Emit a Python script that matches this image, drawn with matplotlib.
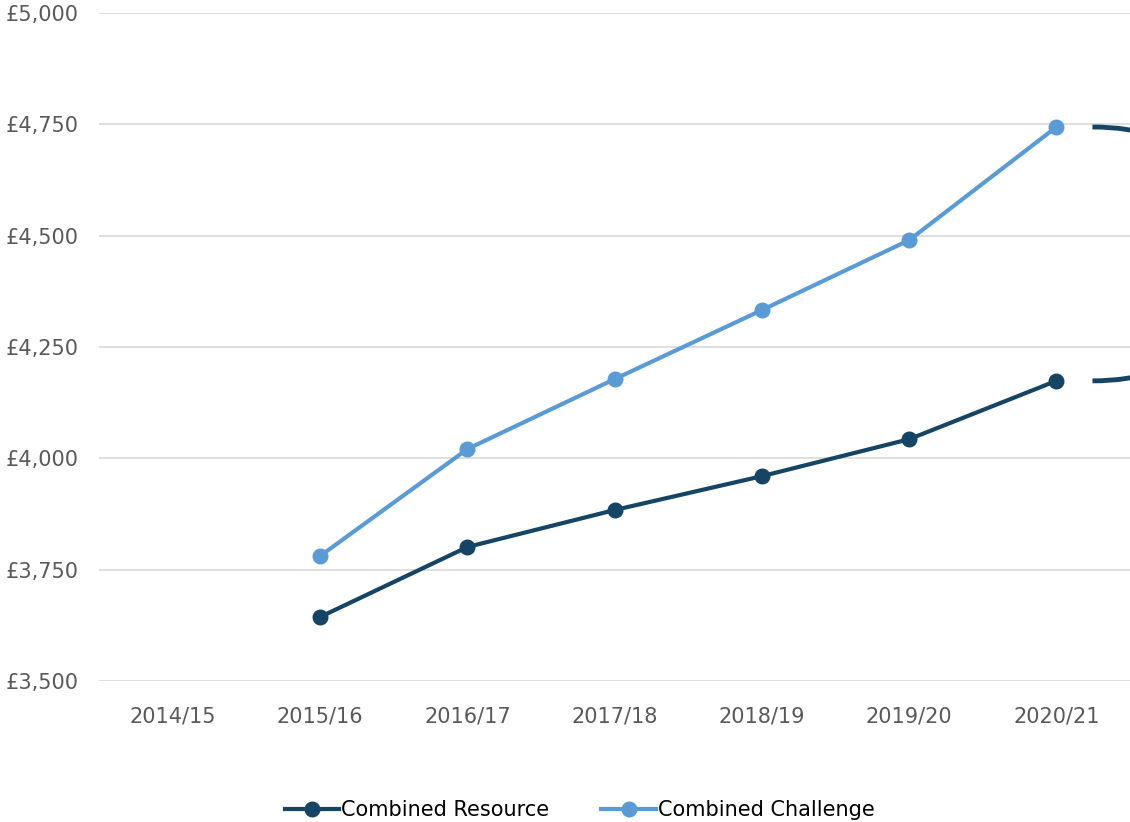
import matplotlib
matplotlib.use("Agg")
import matplotlib.pyplot as plt
from matplotlib.patches import Arc
from matplotlib.ticker import FuncFormatter

years = ["2014/15", "2015/16", "2016/17", "2017/18", "2018/19", "2019/20", "2020/21"]
resource = [None, 3644, 3801, 3884, 3960, 4043, 4174]
challenge = [None, 3781, 4021, 4178, 4333, 4490, 4744]
yticks = [3500, 3750, 4000, 4250, 4500, 4750, 5000]

dark = "#164464"
light = "#5b9bd5"
grey = "#595959"

plt.rcParams['font.family'] = ['DejaVu Sans']

fig = plt.figure(figsize=(11.3, 8.22), dpi=100)
ax = fig.add_axes([0.088, 0.1715, 0.912, 0.8127])

x = list(range(len(years)))
rx = [i for i, v in zip(x, resource) if v is not None]
ry = [v for v in resource if v is not None]
cx = [i for i, v in zip(x, challenge) if v is not None]
cy = [v for v in challenge if v is not None]

ax.plot(rx, ry, color=dark, lw=3, marker='o', markersize=10.5, label="Combined Resource", zorder=3)
ax.plot(cx, cy, color=light, lw=3, marker='o', markersize=10.5, label="Combined Challenge", zorder=3)

# partial ellipse annotation extending past the right edge
yc = (resource[-1] + challenge[-1]) / 2
hh = challenge[-1] - resource[-1]
arc = Arc((6.245, yc), width=2.4, height=hh, theta1=-90, theta2=90,
          color=dark, lw=3.5, zorder=3)
ax.add_patch(arc)

ax.set_xlim(-0.5, 6.5)
ax.set_ylim(3500, 5000)
ax.set_yticks(yticks)
ax.yaxis.set_major_formatter(FuncFormatter(lambda v, p: "£{:,.0f}".format(v)))
ax.set_xticks(x)
ax.set_xticklabels(years)
ax.grid(axis='y', color='#d9d9d9', lw=1.2)
ax.set_axisbelow(True)
for s in ax.spines.values():
    s.set_visible(False)
ax.tick_params(axis='both', length=0, labelsize=15, labelcolor=grey)
ax.tick_params(axis='y', pad=15)
ax.tick_params(axis='x', pad=18)

fig.legend(loc='center', bbox_to_anchor=(0.513, 0.0146), ncol=2, frameon=False,
           fontsize=15, handlelength=2.6, columnspacing=2.5, handletextpad=0.1)

fig.savefig("out.png", dpi=100)
